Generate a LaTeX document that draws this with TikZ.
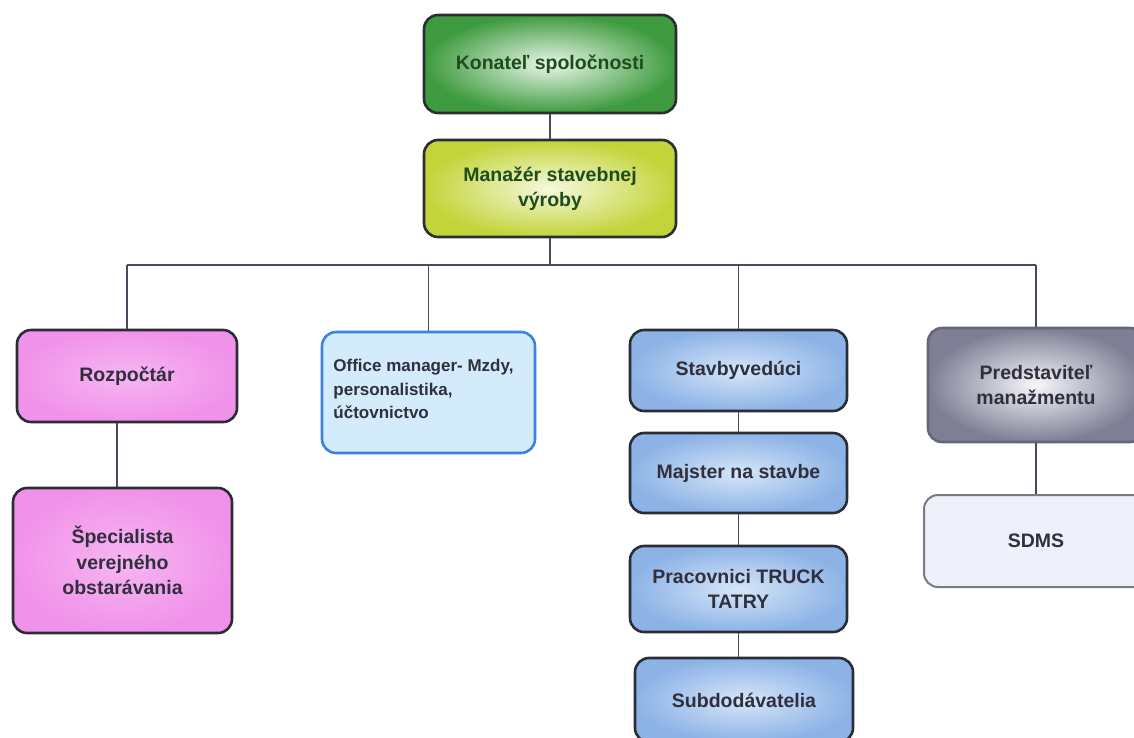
\documentclass[tikz,border=0pt]{standalone}
\usepackage{fontspec}
\setmainfont{Liberation Sans}
\definecolor{gOut}{HTML}{3F9B3F}
\definecolor{gIn}{HTML}{EAF6EA}
\definecolor{yOut}{HTML}{C3D43A}
\definecolor{yIn}{HTML}{F6F9DE}
\definecolor{pOut}{HTML}{F192EA}
\definecolor{pIn}{HTML}{F6B6F1}
\definecolor{oFill}{HTML}{D3EBFA}
\definecolor{oDraw}{HTML}{3B82E6}
\definecolor{bOut}{HTML}{8DB3E6}
\definecolor{bIn}{HTML}{D6E6F8}
\definecolor{grOut}{HTML}{7E7F95}
\definecolor{grIn}{HTML}{F6F6FA}
\definecolor{sFill}{HTML}{EFF1FA}
\definecolor{sDraw}{HTML}{7A7A86}
\definecolor{edge}{HTML}{2A2C36}
\definecolor{txt}{HTML}{2F2F3D}
\definecolor{gtxt}{HTML}{1D4D1D}
\definecolor{conn}{HTML}{4A4A5C}
\begin{document}
\begin{tikzpicture}[x=1pt,y=-1pt,
  box/.style={rounded corners=14pt, draw=edge, line width=2.6pt, inner sep=0pt,
    font=\fontsize{19.5}{25.5}\selectfont\bfseries, text=txt, align=center},
  grbox/.style={box, shade, shading=radial, inner color=gIn, outer color=gOut, text=gtxt},
  ylbox/.style={box, shade, shading=radial, inner color=yIn, outer color=yOut, text=gtxt},
  pkbox/.style={box, shade, shading=radial, inner color=pIn, outer color=pOut},
  bubox/.style={box, shade, shading=radial, inner color=bIn, outer color=bOut},
  gybox/.style={box, shade, shading=radial, inner color=grIn, outer color=grOut, draw=grOut!80!black},
  offbox/.style={box, fill=oFill, draw=oDraw, font=\fontsize{17}{23.5}\selectfont\bfseries, align=left},
  sdbox/.style={box, fill=sFill, draw=sDraw, line width=2pt},
  link/.style={draw=conn, line width=1.5pt}]
\useasboundingbox (0,0) rectangle (1134,737);
\clip (0,0) rectangle (1134,737);
\fill[white] (0,0) rectangle (1134,737);

\node[grbox, minimum width=252pt, minimum height=98pt] (kon) at (550,64) {Konateľ spoločnosti};
\node[ylbox, minimum width=252pt, minimum height=97pt] (man) at (550,188.5) {Manažér stavebnej\\výroby};

\node[pkbox, minimum width=220pt, minimum height=92pt] (roz) at (127,376) {Rozpočtár};
\node[pkbox, minimum width=219pt, minimum height=145pt] (spec) at (122.5,560.5) {Špecialista\\verejného\\obstarávania};

\node[offbox, minimum width=213pt, minimum height=121pt] (off) at (428.5,392.5)
  {\begin{tabular}{@{}l@{}}Office manager- Mzdy,\\personalistika,\\účtovnictvo\\[4pt]\end{tabular}\hspace{10pt}};

\node[bubox, minimum width=217pt, minimum height=81pt] (stav) at (738.5,370.5) {Stavbyvedúci};
\node[bubox, minimum width=217pt, minimum height=80pt] (maj) at (738.5,473) {Majster na stavbe};
\node[bubox, minimum width=217pt, minimum height=86pt] (prac) at (738.5,589) {Pracovnici TRUCK\\TATRY};
\node[bubox, minimum width=218pt, minimum height=84pt] (sub) at (744,700) {Subdodávatelia};

\node[gybox, minimum width=216pt, minimum height=114pt] (pred) at (1036,385) {Predstaviteľ\\manažmentu};
\node[sdbox, minimum width=224pt, minimum height=92pt] (sdms) at (1036,541) {SDMS};

\coordinate (bus) at (550,265);

\path[link] (kon.south) -- (man.north);
\path[link] (man.south) -- (bus);
\path[link] (roz.north |- bus) -- (pred.north |- bus);
\path[link] (roz.north |- bus) -- (roz.north);
\path[link] (off.north |- bus) -- (off.north);
\path[link] (stav.north |- bus) -- (stav.north);
\path[link] (pred.north |- bus) -- (pred.north);
\path[link] ([xshift=-10pt]roz.south) -- ([xshift=-10pt]roz.south |- spec.north);
\path[link] (stav.south) -- (maj.north);
\path[link] (maj.south) -- (prac.north);
\path[link] (prac.south) -- (prac.south |- sub.north);
\path[link] (pred.south) -- (sdms.north);
\end{tikzpicture}
\end{document}
